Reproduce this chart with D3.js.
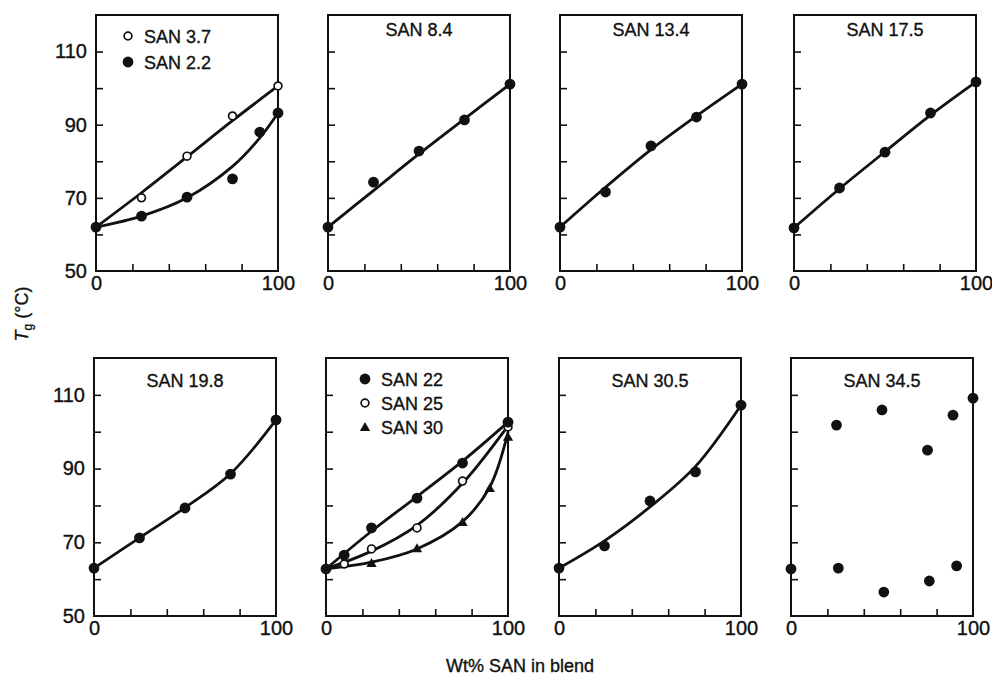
<!DOCTYPE html>
<html><head><meta charset="utf-8">
<script src="https://cdn.jsdelivr.net/npm/d3@7"></script>
<style>
body{margin:0;background:#fff}
svg{display:block}
text{font-family:"Liberation Sans",Arial,Helvetica,sans-serif;fill:#111;stroke:#111;stroke-width:0.35px}
</style>
</head><body>
<svg id="chart" width="992" height="680"></svg>
<script>
// ---------- data ----------
const xTickValues = [20, 40, 60, 80];
const xTickLabels = [0, 100];
const yTickValues = [60, 70, 80, 90, 100, 110];
const yTickLabels = [50, 70, 90, 110];
const panelTitles = [null, "SAN 8.4", "SAN 13.4", "SAN 17.5", "SAN 19.8", null, "SAN 30.5", "SAN 34.5"];

// panel 1
const san3_7Pts = [[0, 62.0], [25, 70.0], [50, 81.4], [75, 92.4], [100, 100.6]];
const san3_7Fit = [[0, 62.0], [25, 71.4], [50, 81.2], [75, 91.1], [100, 100.6]];
const san2_2Pts = [[0, 62.0], [25, 65.0], [50, 70.2], [75, 75.2], [90, 88.0], [100, 93.2]];
const san2_2Fit = [[0, 62.0], [25, 65.0], [50, 70.0], [75, 78.6], [90, 86.4], [100, 93.2]];
// panel 2
const san8_4Pts = [[0, 62.0], [25, 74.3], [50, 82.8], [75, 91.3], [100, 101.1]];
const san8_4Fit = [[0, 62.0], [25, 72.0], [50, 82.0], [75, 91.6], [100, 101.1]];
// panel 3
const san13_4Pts = [[0, 62.0], [25, 71.6], [50, 84.2], [75, 92.1], [100, 101.1]];
const san13_4Fit = [[0, 62.0], [25, 72.9], [50, 83.2], [75, 92.4], [100, 101.1]];
// panel 4
const san17_5Pts = [[0, 61.8], [25, 72.7], [50, 82.5], [75, 93.2], [100, 101.7]];
const san17_5Fit = [[0, 61.8], [25, 72.5], [50, 82.6], [75, 92.6], [100, 101.7]];
// panel 5
const san19_8Pts = [[0, 63.0], [25, 71.2], [50, 79.3], [75, 88.5], [100, 103.2]];
const san19_8Fit = [[0, 63.0], [25, 71.2], [50, 79.4], [75, 88.6], [100, 103.2]];
// panel 6
const san22Pts = [[0, 62.8], [10, 66.5], [25, 73.9], [50, 82.0], [75, 91.5], [100, 102.6]];
const san22Fit = [[0, 62.8], [25, 73.0], [50, 82.4], [75, 92.0], [100, 102.6]];
const san25Pts = [[10, 64.1], [25, 68.2], [50, 73.9], [75, 86.6], [100, 101.3]];
const san25Fit = [[0, 62.8], [25, 67.6], [50, 74.6], [75, 86.0], [100, 101.6]];
const san30Pts = [[25, 64.4], [50, 68.4], [75, 75.5], [90, 84.7], [100, 98.6]];
const san30Fit = [[0, 62.8], [25, 64.6], [50, 68.2], [75, 75.6], [90, 85.0], [100, 99.8]];
// panel 7
const san30_5Pts = [[0, 63.0], [25, 69.0], [50, 81.2], [75, 89.1], [100, 107.2]];
const san30_5Fit = [[0, 63.0], [25, 70.4], [50, 79.6], [75, 90.6], [100, 107.2]];
// panel 8
const san34_5Pts = [[0, 62.8], [25, 101.8], [26, 63.0], [50, 105.9], [51, 56.5], [75, 95.0], [76, 59.5], [89, 104.5], [91, 63.6], [100, 109.1]];

// ---------- layout ----------
const panelLeft = [[96, 328, 560, 794], [94, 326, 559, 791]];
const rowTop = [15, 358];
const rowBottom = [271, 616];
const panelW = 182;
const titleBase = [36, 387];

const panels = [
  {series: [{pts: san3_7Pts, fit: san3_7Fit, mk: "open"}, {pts: san2_2Pts, fit: san2_2Fit, mk: "filled"}],
   legend: [{mk: "open", label: "SAN 3.7", x: 128, y: 36}, {mk: "filled", label: "SAN 2.2", x: 128, y: 62}]},
  {series: [{pts: san8_4Pts, fit: san8_4Fit, mk: "filled"}]},
  {series: [{pts: san13_4Pts, fit: san13_4Fit, mk: "filled"}]},
  {series: [{pts: san17_5Pts, fit: san17_5Fit, mk: "filled"}]},
  {series: [{pts: san19_8Pts, fit: san19_8Fit, mk: "filled"}]},
  {series: [{pts: san30Pts, fit: san30Fit, mk: "tri"}, {pts: san25Pts, fit: san25Fit, mk: "open"}, {pts: san22Pts, fit: san22Fit, mk: "filled"}],
   legend: [{mk: "filled", label: "SAN 22", x: 365, y: 379}, {mk: "open", label: "SAN 25", x: 365, y: 403}, {mk: "tri", label: "SAN 30", x: 365, y: 427}]},
  {series: [{pts: san30_5Pts, fit: san30_5Fit, mk: "filled"}]},
  {series: [{pts: san34_5Pts, fit: null, mk: "filled"}]}
];

const svg = d3.select("#chart");

function drawMarker(g, mk, x, y) {
  if (mk === "filled") {
    g.append("circle").attr("cx", x).attr("cy", y).attr("r", 5.4).attr("fill", "#111");
  } else if (mk === "open") {
    g.append("circle").attr("cx", x).attr("cy", y).attr("r", 3.9)
      .attr("fill", "#fff").attr("stroke", "#111").attr("stroke-width", 1.7);
  } else {
    g.append("path").attr("d", d3.symbol().type(d3.symbolTriangle).size(46)())
      .attr("transform", `translate(${x},${y + 1})`).attr("fill", "#111");
  }
}

panels.forEach((p, i) => {
  const row = Math.floor(i / 4), col = i % 4;
  const x0 = panelLeft[row][col], x1 = x0 + panelW;
  const x = d3.scaleLinear().domain([0, 100]).range([x0, x1]);
  const y = d3.scaleLinear().domain([50, 120]).range([rowBottom[row], rowTop[row]]);
  const g = svg.append("g");

  const ly = g.append("g").attr("transform", `translate(${x0},0)`)
    .call(d3.axisRight(y).tickValues(yTickValues).tickSize(7).tickFormat(""));
  ly.select(".domain").remove();
  ly.selectAll("line").attr("stroke", "#111").attr("stroke-width", 1.6);
  const bx = g.append("g").attr("transform", `translate(0,${rowBottom[row]})`)
    .call(d3.axisTop(x).tickValues(xTickValues).tickSize(7).tickFormat(""));
  bx.select(".domain").remove();
  bx.selectAll("line").attr("stroke", "#111").attr("stroke-width", 1.6);

  const xl = g.append("g").attr("transform", `translate(0,${rowBottom[row]})`)
    .call(d3.axisBottom(x).tickValues(xTickLabels).tickSize(0).tickPadding(5).tickFormat(d3.format("d")));
  xl.select(".domain").remove();
  xl.selectAll("text").attr("font-size", 20).attr("fill", "#111")
    .attr("font-family", '"Liberation Sans",Arial,sans-serif');

  if (col === 0) {
    const yl = g.append("g").attr("transform", `translate(${x0},0)`)
      .call(d3.axisLeft(y).tickValues(yTickLabels).tickSize(0).tickPadding(9).tickFormat(d3.format("d")));
    yl.select(".domain").remove();
    yl.selectAll("text").attr("font-size", 20).attr("fill", "#111")
      .attr("font-family", '"Liberation Sans",Arial,sans-serif');
  }

  g.append("rect").attr("x", x0).attr("y", rowTop[row]).attr("width", panelW)
    .attr("height", rowBottom[row] - rowTop[row]).attr("fill", "none")
    .attr("stroke", "#111").attr("stroke-width", 2);

  if (panelTitles[i]) {
    g.append("text").attr("x", (x0 + x1) / 2).attr("y", titleBase[row])
      .attr("text-anchor", "middle").attr("font-size", 18).text(panelTitles[i]);
  }

  const line = d3.line().x(d => x(d[0])).y(d => y(d[1])).curve(d3.curveCatmullRom.alpha(0.5));
  p.series.forEach(s => {
    if (s.fit) g.append("path").attr("d", line(s.fit)).attr("fill", "none")
      .attr("stroke", "#111").attr("stroke-width", 2.8).attr("stroke-linecap", "round");
  });
  p.series.forEach(s => {
    s.pts.forEach(d => drawMarker(g, s.mk, x(d[0]), y(d[1])));
  });

  if (p.legend) {
    p.legend.forEach(l => {
      drawMarker(g, l.mk, l.x, l.y);
      g.append("text").attr("x", l.x + 16).attr("y", l.y + 6.5).attr("font-size", 18).text(l.label);
    });
  }
});

const yt = svg.append("text").attr("transform", "translate(28,314) rotate(-90)")
  .attr("text-anchor", "middle").attr("font-size", 18);
yt.append("tspan").attr("font-style", "italic").text("T");
yt.append("tspan").attr("font-size", 12).attr("dy", 4).text("g");
yt.append("tspan").attr("dy", -4).text(" (°C)");

svg.append("text").attr("x", 520).attr("y", 672).attr("text-anchor", "middle")
  .attr("font-size", 18).text("Wt% SAN in blend");
</script>
</body></html>
